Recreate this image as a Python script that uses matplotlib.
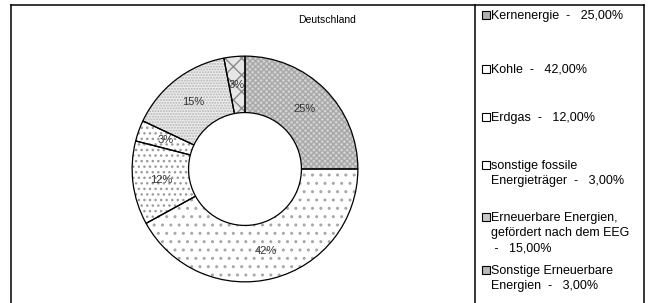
import matplotlib.pyplot as plt
from matplotlib.patches import Rectangle
from matplotlib.lines import Line2D

plt.rcParams['font.family'] = ['Liberation Sans', 'DejaVu Sans']

# data
title = 'Deutschland'
sources = ['Kernenergie', 'Kohle', 'Erdgas', 'sonstige fossile\nEnergieträger',
           'Erneuerbare Energien,\ngefördert nach dem EEG\n', 'Sonstige Erneuerbare\nEnergien']
shares = [25, 42, 12, 3, 15, 3]

# styles per slice
faces = ['#d2d2d2', 'white', 'white', 'white', '#ededed', '#e6e6e6']
hatches = ['xxxxxx', '..', '...', '...', '......', 'xx']
hatch_cols = ['#a8a8a8', '#a8a8a8', '#9a9a9a', '#9a9a9a', '#b4b4b4', '#8a8a8a']
legend_faces = ['#b0b0b0', 'white', 'white', 'white', '#c8c8c8', '#b8b8b8']
legend_y = [15, 69, 117, 165, 217, 270]   # pixel rows of first text line

W, H = 658, 303
fig = plt.figure(figsize=(W / 100, H / 100), dpi=100)

# pie axes: center (245,169), radius 114 px
cx, cy, r = 245, 169, 114
ax = fig.add_axes([(cx - r) / W, (H - cy - r) / H, 2 * r / W, 2 * r / H])

wedges, _ = ax.pie(shares, startangle=90, counterclock=False, radius=1,
                   colors=faces, wedgeprops=dict(width=0.5, linewidth=0))
for w, h, hc in zip(wedges, hatches, hatch_cols):
    w.set_hatch(h)
    w.set_edgecolor(hc)
    w.set_linewidth(0)

_, _, texts = ax.pie(shares, startangle=90, counterclock=False, radius=1,
                     colors=['none'] * len(shares),
                     autopct='%1.0f%%', pctdistance=0.75,
                     wedgeprops=dict(width=0.5, linewidth=0.9, edgecolor='black',
                                     facecolor='none'),
                     textprops=dict(fontsize=8, color='#333333'))
ax.set_xlim(-1.01, 1.01)
ax.set_ylim(-1.01, 1.01)
ax.set_axis_off()

fig.text(327 / W, 1 - 20 / H, title, ha='center', va='center', fontsize=7.5)

# frame
def hline(x0, x1, y):
    fig.add_artist(Line2D([x0 / W, x1 / W], [1 - y / H, 1 - y / H], color='black', lw=1.1))

def vline(x, y0, y1):
    fig.add_artist(Line2D([x / W, x / W], [1 - y0 / H, 1 - y1 / H], color='black', lw=1.1))

hline(11, 644, 5)
vline(11, 5, 303)
vline(475, 5, 303)
vline(644, 5, 303)

# legend
for name, val, lf, y in zip(sources, shares, legend_faces, legend_y):
    pct = f'{val:.2f}'.replace('.', ',') + '%'
    if name.endswith('\n'):
        label = name + ' -   ' + pct
    else:
        label = name + '  -   ' + pct
    sq = 7.5
    fig.add_artist(Rectangle((482 / W, 1 - (y + sq / 2) / H), sq / W, sq / H,
                             facecolor=lf, edgecolor='black', lw=0.8,
                             transform=fig.transFigure))
    fig.text(491 / W, 1 - (y - 5) / H, label, ha='left', va='top', fontsize=9,
             linespacing=1.38)

fig.savefig('out.png', dpi=100)
